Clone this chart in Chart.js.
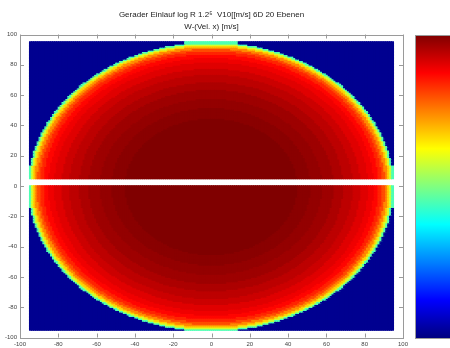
<!DOCTYPE html>
<html>
<head>
<meta charset="utf-8">
<script src="https://cdn.jsdelivr.net/npm/chart.js@4/dist/chart.umd.min.js"></script>
<style>
  html, body { margin: 0; padding: 0; background: #fff; }
  #wrap { width: 450px; height: 348px; }
</style>
</head>
<body>
<div id="wrap"><canvas id="profileChart" width="450" height="348"></canvas></div>
<script>
const titleLines = ["Gerader Einlauf log R 1.2\u2075  V10[[m/s] 6D 20 Ebenen", "W-(Vel. x) [m/s]"];
const xTicks = [-100, -80, -60, -40, -20, 0, 20, 40, 60, 80, 100];
const yTicks = [-100, -80, -60, -40, -20, 0, 20, 40, 60, 80, 100];

// cell centres of the measuring grid (same in x and y), cell size 1
const cellSize = 1;
const gridPos = [
  -94.5, -93.5, -92.5, -91.5, -90.5, -89.5, -88.5, -87.5, -86.5, -85.5, -84.5, -83.5, -82.5, -81.5, -80.5,
  -79.5, -78.5, -77.5, -76.5, -75.5, -74.5, -73.5, -72.5, -71.5, -70.5, -69.5, -68.5, -67.5, -66.5, -65.5,
  -64.5, -63.5, -62.5, -61.5, -60.5, -59.5, -58.5, -57.5, -56.5, -55.5, -54.5, -53.5, -52.5, -51.5, -50.5,
  -49.5, -48.5, -47.5, -46.5, -45.5, -44.5, -43.5, -42.5, -41.5, -40.5, -39.5, -38.5, -37.5, -36.5, -35.5,
  -34.5, -33.5, -32.5, -31.5, -30.5, -29.5, -28.5, -27.5, -26.5, -25.5, -24.5, -23.5, -22.5, -21.5, -20.5,
  -19.5, -18.5, -17.5, -16.5, -15.5, -14.5, -13.5, -12.5, -11.5, -10.5, -9.5, -8.5, -7.5, -6.5, -5.5,
  -4.5, -3.5, -2.5, -1.5, -0.5, 0.5, 1.5, 2.5, 3.5, 4.5, 5.5, 6.5, 7.5, 8.5, 9.5,
  10.5, 11.5, 12.5, 13.5, 14.5, 15.5, 16.5, 17.5, 18.5, 19.5, 20.5, 21.5, 22.5, 23.5, 24.5,
  25.5, 26.5, 27.5, 28.5, 29.5, 30.5, 31.5, 32.5, 33.5, 34.5, 35.5, 36.5, 37.5, 38.5, 39.5,
  40.5, 41.5, 42.5, 43.5, 44.5, 45.5, 46.5, 47.5, 48.5, 49.5, 50.5, 51.5, 52.5, 53.5, 54.5,
  55.5, 56.5, 57.5, 58.5, 59.5, 60.5, 61.5, 62.5, 63.5, 64.5, 65.5, 66.5, 67.5, 68.5, 69.5,
  70.5, 71.5, 72.5, 73.5, 74.5, 75.5, 76.5, 77.5, 78.5, 79.5, 80.5, 81.5, 82.5, 83.5, 84.5,
  85.5, 86.5, 87.5, 88.5, 89.5, 90.5, 91.5, 92.5, 93.5, 94.5];
// rows with no data (white stripe)
const gapRows = [0.5, 1.5, 2.5, 3.5, 4.5];

// radial profile: outer radius of each band, colour level (0..1) of the band
const ringOuter = [45, 52, 58, 64, 69, 74, 78, 82, 85, 87.5, 89.5, 91, 92.5, 93.5, 94.5, 95.5];
const ringLevel = [1.0, 0.99, 0.98, 0.97, 0.955, 0.94, 0.925, 0.905, 0.89, 0.87, 0.84, 0.8, 0.74, 0.67, 0.58, 0.45];
const outsideLevel = 0.016;

function levelAt(x, y) {
  const r = Math.sqrt(x * x + y * y);
  for (let k = 0; k < ringOuter.length; k++) {
    if (r < ringOuter[k]) return ringLevel[k];
  }
  return outsideLevel;
}

const cells = [];
gridPos.forEach(function (y) {
  if (gapRows.includes(y)) return;
  gridPos.forEach(function (x) {
    cells.push({ x: x, y: y, v: levelAt(x, y) });
  });
});

function clamp(a) { return Math.max(0, Math.min(1, a)); }
function jet(v) {
  const r = clamp(1.5 - Math.abs(4 * v - 3));
  const g = clamp(1.5 - Math.abs(4 * v - 2));
  const b = clamp(1.5 - Math.abs(4 * v - 1));
  return "rgb(" + Math.round(r * 255) + "," + Math.round(g * 255) + "," + Math.round(b * 255) + ")";
}

// square marks a bit larger than one cell so neighbours overlap without seams
function cellRadius(c) {
  const s = c.chart.scales.x;
  const w = Math.abs(s.getPixelForValue(cellSize) - s.getPixelForValue(0));
  return (w + 1.2) / Math.SQRT2;
}

const frameAndColorbar = {
  id: "frameAndColorbar",
  afterDraw: function (chart) {
    const ctx = chart.ctx;
    const a = chart.chartArea;
    const sx = chart.scales.x, sy = chart.scales.y;
    ctx.save();
    ctx.strokeStyle = "#9a9a9a";
    ctx.lineWidth = 1;
    ctx.strokeRect(Math.round(a.left) + 0.5, Math.round(a.top) + 0.5,
      Math.round(a.right - a.left), Math.round(a.bottom - a.top));
    ctx.beginPath();
    xTicks.forEach(function (t) {
      const px = Math.round(sx.getPixelForValue(t)) + 0.5;
      ctx.moveTo(px, a.bottom); ctx.lineTo(px, a.bottom - 4);
      ctx.moveTo(px, a.top); ctx.lineTo(px, a.top + 4);
    });
    yTicks.forEach(function (t) {
      const py = Math.round(sy.getPixelForValue(t)) + 0.5;
      ctx.moveTo(a.left, py); ctx.lineTo(a.left + 4, py);
      ctx.moveTo(a.right, py); ctx.lineTo(a.right - 4, py);
    });
    ctx.stroke();

    // colorbar
    const cbX = 415, cbTop = 35, cbBottom = 338;
    const grad = ctx.createLinearGradient(0, cbBottom, 0, cbTop);
    for (let i = 0; i <= 32; i++) grad.addColorStop(i / 32, jet(i / 32));
    ctx.fillStyle = grad;
    ctx.fillRect(cbX, cbTop, 40, cbBottom - cbTop);
    ctx.strokeStyle = "#9a9a9a";
    ctx.strokeRect(cbX + 0.5, cbTop + 0.5, 40, cbBottom - cbTop);
    ctx.restore();
  }
};

new Chart(document.getElementById("profileChart").getContext("2d"), {
  type: "scatter",
  data: {
    datasets: [{
      data: cells,
      pointStyle: "rect",
      pointRadius: cellRadius,
      pointHoverRadius: cellRadius,
      pointBorderWidth: 0,
      pointBackgroundColor: function (c) { return jet(c.raw ? c.raw.v : 0); }
    }]
  },
  options: {
    responsive: false,
    animation: false,
    events: [],
    layout: { padding: { left: 0, right: 47, top: 0, bottom: 0 } },
    plugins: {
      legend: { display: false },
      tooltip: { enabled: false },
      title: {
        display: true,
        text: titleLines,
        fullSize: false,
        color: "#222",
        font: { family: "'Liberation Sans', Arial, sans-serif", size: 8, weight: "normal", lineHeight: 1.5 },
        padding: { top: 9, bottom: 1.5 }
      }
    },
    scales: {
      x: {
        type: "linear", min: -100, max: 100,
        afterBuildTicks: function (s) { s.ticks = xTicks.map(function (v) { return { value: v }; }); },
        afterFit: function (s) { s.height = 10.5; },
        grid: { display: false, drawTicks: false },
        border: { display: false },
        ticks: { font: { family: "'Liberation Sans', Arial, sans-serif", size: 6 }, color: "#444", padding: 3, maxRotation: 0 }
      },
      y: {
        type: "linear", min: -100, max: 100,
        afterBuildTicks: function (s) { s.ticks = yTicks.map(function (v) { return { value: v }; }); },
        afterFit: function (s) { s.width = 20; },
        grid: { display: false, drawTicks: false },
        border: { display: false },
        ticks: { font: { family: "'Liberation Sans', Arial, sans-serif", size: 6 }, color: "#444", padding: 3 }
      }
    }
  },
  plugins: [frameAndColorbar]
});
</script>
</body>
</html>
